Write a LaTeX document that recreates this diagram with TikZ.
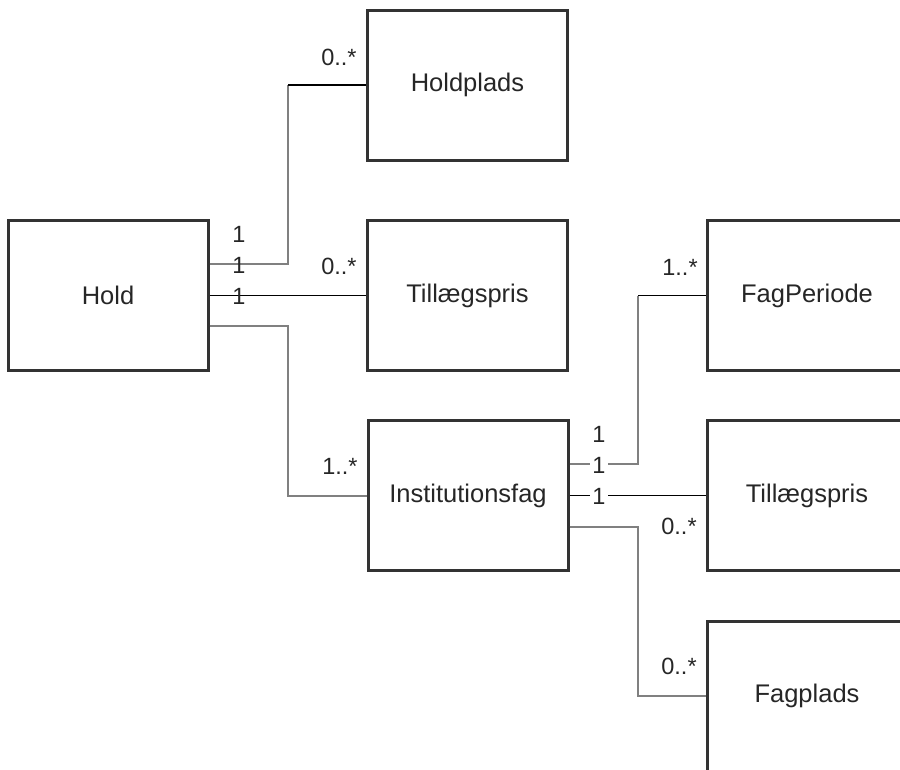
\documentclass[tikz,border=0pt]{standalone}
\usepackage{fontspec}
\setmainfont{Liberation Sans}
\begin{document}
\begin{tikzpicture}[x=1pt,y=-1pt,
  entity/.style={draw=black!80, line width=3pt, minimum width=200pt, minimum height=150pt, inner sep=0pt, font=\fontsize{25.5}{30}\selectfont, text=black!85},
  mult/.style={inner sep=1pt, font=\fontsize{23.5}{28}\selectfont, text=black!85},
  multw/.style={mult, fill=white, inner sep=2pt},
  lnk/.style={line width=1.3pt, black},
  glnk/.style={line width=2pt, black!50}]
\useasboundingbox (0,0) rectangle (900,769);
\begin{scope}
\clip (0,0) rectangle (900,769);
\node[entity] (holdplads) at (467.5,85) {Holdplads};
\node[entity] (tp1) at (467.5,295.5) {Tillægspris};
\node[entity] (hold) at (108,295.5) {Hold};
\node[entity] (inst) at (468,495.5) {Institutionsfag};
\node[entity] (fagper) at (807,295.5) {FagPeriode};
\node[entity] (tp2) at (807,495.5) {Tillægspris};
\node[entity] (fagplads) at (807,696) {Fagplads};

% Hold -> Holdplads
\coordinate (c1) at (288,85);
\draw[glnk] ([yshift=31.5pt]hold.east) -| (c1);
\draw[lnk] (c1) -- (holdplads.west);
% Hold -> Tillaegspris
\draw[lnk] (hold.east) -- (tp1.west);
% Hold -> Institutionsfag
\coordinate (c2) at (288,326);
\draw[glnk] ([yshift=-30.5pt]hold.east) -- (c2) |- (inst.west);

\node[mult] (m1) at (239,234) {1};
\node[mult] (m2) at (239,265) {1};
\node[mult] (m3) at (239,296) {1};
\node[mult] (m4) at (339,57) {0..*};
\node[mult] (m5) at (339,266) {0..*};
\node[mult] (m6) at (340,466) {1..*};

% Institutionsfag -> FagPeriode
\coordinate (c3) at (638,295.5);
\draw[glnk] ([yshift=31.5pt]inst.east) -| (c3);
\draw[lnk] (c3) -- (fagper.west);
% Institutionsfag -> Tillaegspris
\draw[lnk] (inst.east) -- (tp2.west);
% Institutionsfag -> Fagplads
\coordinate (c4) at (638,527);
\draw[glnk] ([yshift=-31.5pt]inst.east) -- (c4) |- (fagplads.west);

\node[mult] (n1) at (599,434) {1};
\node[multw] (n2) at (599,465) {1};
\node[multw] (n3) at (599,496) {1};
\node[mult] (n4) at (680,267) {1..*};
\node[mult] (n5) at (679,526) {0..*};
\node[mult] (n6) at (679,666) {0..*};
\end{scope}
\end{tikzpicture}
\end{document}
